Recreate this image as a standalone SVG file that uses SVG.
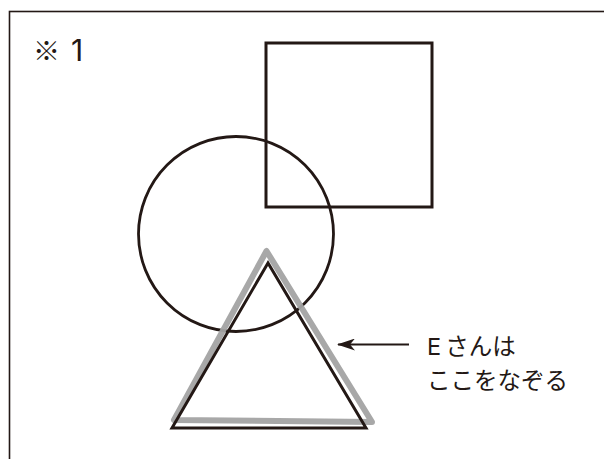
<svg xmlns="http://www.w3.org/2000/svg" width="604" height="459" viewBox="0 0 604 459">
<style>
.k{fill:none;stroke:#231815}
.t{font-family:"Noto Sans CJK JP","Noto Sans",sans-serif;fill:#231815}
.l{font-family:Inter,"Noto Sans CJK JP",sans-serif}
</style>
<defs>
<marker id="ah" markerWidth="18" markerHeight="12" refX="17" refY="6" orient="auto" markerUnits="userSpaceOnUse">
<path d="M0,0 L18,6 L0,12 L5,6 Z" fill="#231815"/>
</marker>
</defs>
<rect width="604" height="459" fill="#fff"/>
<rect id="frame" class="k" x="9.5" y="11.5" width="620" height="480" stroke-width="1.6"/>
<g id="label1"><text class="t" x="33" y="61" font-size="27">※<tspan class="l" font-size="30" dx="11">1</tspan></text></g>
<g id="square"><rect class="k" x="266" y="43" width="166" height="164" stroke-width="3"/></g>
<g id="circle"><circle class="k" cx="236" cy="234" r="97.5" stroke-width="2.8"/></g>
<g id="gray-triangle"><polygon points="266.5,251 174,420 372,422" fill="none" stroke="#a3a3a3" stroke-width="6" stroke-linejoin="round" opacity="0.95"/></g>
<g id="triangle"><polygon class="k" points="268,263 172,428 366,428" stroke-width="3"/></g>
<g id="connectors"><line class="k" x1="409" y1="344.5" x2="338" y2="344.5" stroke-width="2" marker-end="url(#ah)"/></g>
<g id="note">
<text class="t" x="427" y="355" font-size="23.5"><tspan class="l">E</tspan><tspan dx="4">さんは</tspan></text>
<text class="t" x="427" y="389" font-size="23.5">ここをなぞる</text>
</g>
</svg>
